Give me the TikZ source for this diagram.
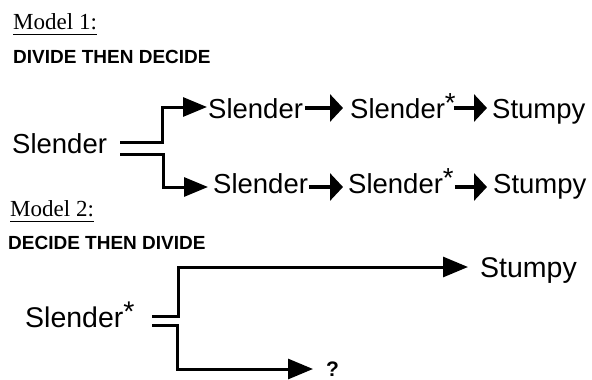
\documentclass[tikz,border=0pt]{standalone}
\usepackage{fontspec}
\setmainfont{Liberation Serif}
\setsansfont{Liberation Sans}
\usetikzlibrary{arrows.meta}
\begin{document}
\begin{tikzpicture}[x=1pt,y=-1pt,
  lbl/.style={font=\sffamily\fontsize{27.5}{30}\selectfont, inner sep=0pt, anchor=base west},
  lblb/.style={font=\sffamily\fontsize{28.5}{31}\selectfont, inner sep=0pt, anchor=base west},
  model/.style={font=\rmfamily\fontsize{23}{26}\selectfont, inner sep=0pt, anchor=base west},
  headtxt/.style={font=\sffamily\bfseries\fontsize{19}{22}\selectfont, inner sep=0pt, anchor=base west},
  qtxt/.style={font=\sffamily\bfseries\fontsize{21}{24}\selectfont, inner sep=0pt, anchor=base west},
  fk/.style={line width=3pt, -{Triangle[length=24pt,width=19pt]}},
  fkb/.style={line width=3pt, -{Triangle[length=25pt,width=20pt]}},
  ia/.style={line width=3.2pt, -{Triangle[length=13pt,width=27pt]}},
  ul/.style={line width=1.4pt}
]
\useasboundingbox (0,0) rectangle (592,380);

% Model 1
\node[model] (m1) at (13,29) {Model 1:};
\draw[ul] ([yshift=-5.5pt]m1.base west) -- ([yshift=-5.5pt]m1.base east);
\node[headtxt] (h1) at (13,63) {DIVIDE THEN DECIDE};

\node[lbl] (s0) at (12,153) {Slender};
\node[lbl] (a1) at (208,118) {Slender};
\node[lbl] (a2) at (350,118) {Slender\raisebox{5.5pt}{*}};
\node[lbl] (a3) at (492,118) {Stumpy};
\node[lbl] (b1) at (213,193) {Slender};
\node[lbl] (b2) at (348,193) {Slender\raisebox{5.5pt}{*}};
\node[lbl] (b3) at (493,193) {Stumpy};

\draw[ia] ([xshift=2pt,yshift=10pt]a1.base east) -- ([xshift=-7pt,yshift=10pt]a2.base west);
\draw[ia] ([xshift=-2pt,yshift=10pt]a2.base east) -- ([xshift=-5pt,yshift=10pt]a3.base west);
\draw[ia] ([xshift=1pt,yshift=6pt]b1.base east) -- ([xshift=-5pt,yshift=6pt]b2.base west);
\draw[ia] ([xshift=1pt,yshift=6pt]b2.base east) -- ([xshift=-6pt,yshift=6pt]b3.base west);

\coordinate (u0) at (120,142);
\coordinate (u1) at (162,142);
\coordinate (l0) at (120,154);
\coordinate (l1) at (163,154);
\draw[fk] (u0) -- (u1) |- ([xshift=-1pt,yshift=11pt]a1.base west);
\draw[fk] (l0) -- (l1) |- ([xshift=-5pt,yshift=6pt]b1.base west);

% Model 2
\node[model] (m2) at (10,216.5) {Model 2:};
\draw[ul] ([yshift=-5pt]m2.base west) -- ([yshift=-5pt]m2.base east);
\node[headtxt] (h2) at (8,249) {DECIDE THEN DIVIDE};

\node[lblb] (t0) at (25,327) {Slender\raisebox{6pt}{*}};
\node[lblb] (t1) at (480,277) {Stumpy};
\node[qtxt] (q) at (326,376) {?};

\coordinate (v0) at (152,316);
\coordinate (v1) at (178,316);
\coordinate (w0) at (152,325);
\coordinate (w1) at (177,325);
\draw[fkb] (v0) -- (v1) |- ([xshift=-12pt,yshift=10pt]t1.base west);
\draw[fkb] (w0) -- (w1) |- ([xshift=-13pt,yshift=7pt]q.base west);
\end{tikzpicture}
\end{document}
